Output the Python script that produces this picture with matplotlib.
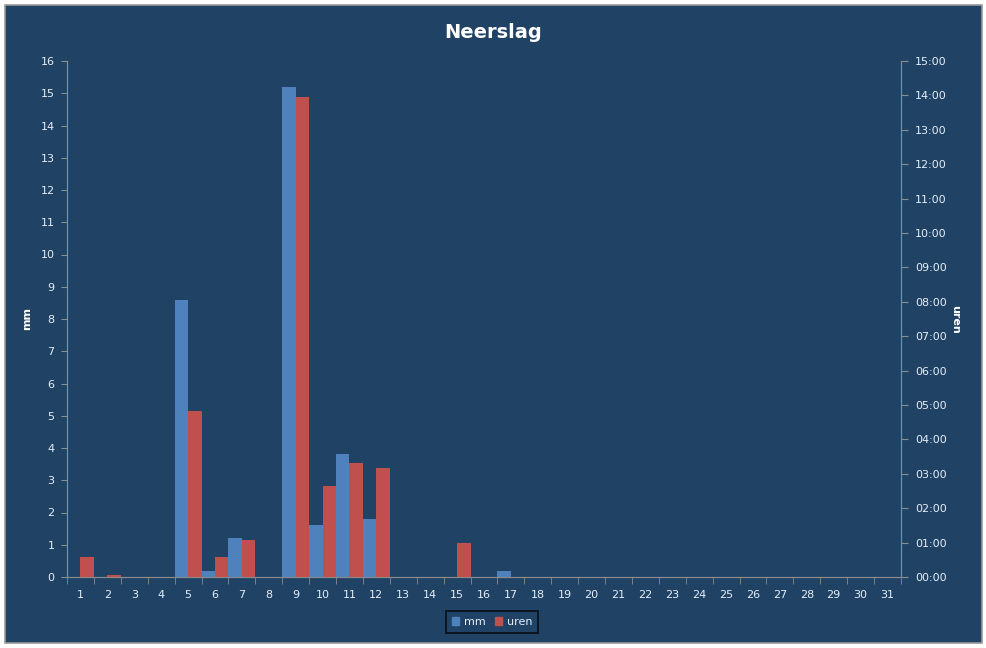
import numpy as np
import matplotlib
matplotlib.use("Agg")
import matplotlib.pyplot as plt
from matplotlib.patches import Rectangle, Patch
from matplotlib.ticker import FuncFormatter, FixedLocator

days = np.arange(1, 32)
mm = np.zeros(31)
mm_values = {5: 8.6, 6: 0.2, 7: 1.2, 9: 15.2, 10: 1.6, 11: 3.8, 12: 1.8, 17: 0.2}
for d, v in mm_values.items():
    mm[d - 1] = v

# uren in hours
uren = np.zeros(31)
uren_values = {1: 0.58, 2: 0.06, 5: 4.83, 6: 0.58, 7: 1.08, 9: 13.95,
               10: 2.65, 11: 3.32, 12: 3.17, 15: 0.99}
for d, v in uren_values.items():
    uren[d - 1] = v

bg = "#1F4265"
blue = "#4F81BD"
red = "#C0504D"
txt = "#E6EEF8"
axcol = "#8C8C8C"

fig = plt.figure(figsize=(9.87, 6.48), dpi=100, facecolor="white")
fig.patches.append(Rectangle((5 / 987, 5 / 648), 977 / 987, 638 / 648,
                             transform=fig.transFigure, facecolor=bg,
                             edgecolor="#9A9A9A", linewidth=1.2, zorder=-10))

ax = fig.add_axes([67 / 987, 1 - 577 / 648, (901 - 67) / 987, (577 - 61) / 648])
ax.set_facecolor("none")
ax2 = ax.twinx()

ax.bar(days - 0.25, mm, width=0.5, color=blue, zorder=3)
ax2.bar(days + 0.25, uren, width=0.5, color=red, zorder=3)

ax.set_xlim(0.5, 31.5)
ax.set_ylim(0, 16)
ax2.set_ylim(0, 15)
ax.set_yticks(range(0, 17))
ax2.set_yticks(range(0, 16))
ax2.yaxis.set_major_formatter(FuncFormatter(lambda v, p: f"{int(v):02d}:00"))

ax.xaxis.set_major_locator(FixedLocator(days))
ax.xaxis.set_minor_locator(FixedLocator(np.arange(0.5, 32, 1)))
ax.tick_params(axis="x", which="major", length=0, pad=9, labelsize=8, labelcolor=txt)
ax.tick_params(axis="x", which="minor", length=5, color=axcol, direction="out")
ax.tick_params(axis="y", length=4, color=axcol, labelsize=8, labelcolor=txt, pad=5)
ax2.tick_params(axis="y", length=5, color=axcol, labelsize=8, labelcolor=txt, pad=5)

for a in (ax, ax2):
    a.spines["top"].set_visible(False)
    for s in ("left", "right", "bottom"):
        a.spines[s].set_color(axcol)
ax.set_ylabel("mm", color="white", fontsize=8, fontweight="bold")
ax.yaxis.set_label_coords(-0.042, 0.5)
ax2.set_ylabel("uren", color="white", fontsize=8, fontweight="bold", rotation=270,
               va="center")
ax2.yaxis.set_label_coords(1.065, 0.5)

fig.text(493 / 987, 1 - 32 / 648, "Neerslag", color="white", fontsize=14,
         fontweight="bold", ha="center", va="center")

handles = [Patch(color=blue, label="mm"), Patch(color=red, label="uren")]
leg = fig.legend(handles=handles, loc="center", bbox_to_anchor=(492 / 987, 1 - 622 / 648),
                 ncol=2, frameon=True, fontsize=8, handlelength=0.7, handleheight=0.7,
                 handletextpad=0.4, columnspacing=0.8, borderpad=0.5)
leg.get_frame().set_facecolor("none")
leg.get_frame().set_edgecolor("black")
leg.get_frame().set_linewidth(1.2)
leg.get_frame().set_boxstyle("square", pad=0)
for t in leg.get_texts():
    t.set_color(txt)

fig.savefig("out.png", dpi=100, facecolor="white")
